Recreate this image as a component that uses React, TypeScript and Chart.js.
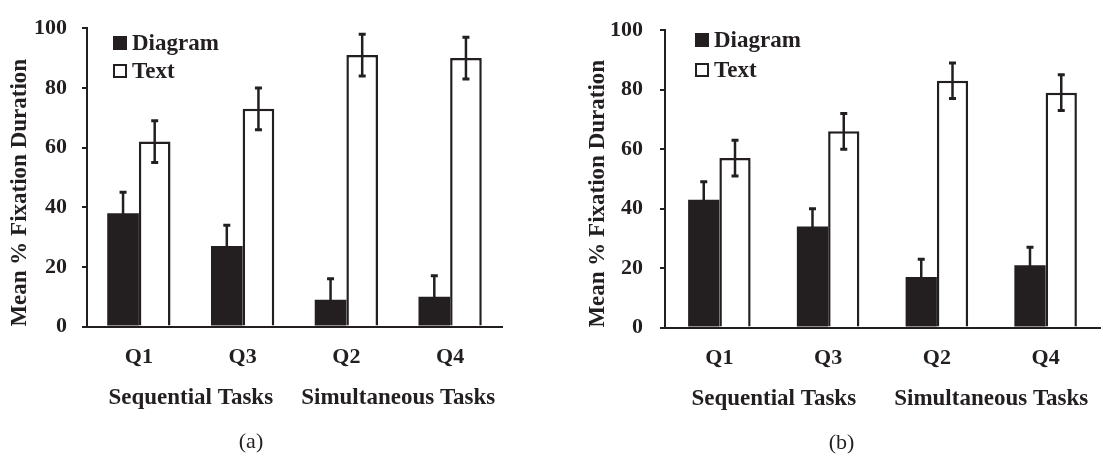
import React, { useEffect, useRef } from 'react';
import { Chart, registerables } from 'chart.js';

Chart.register(...registerables);

// ---------- data ----------
const categories = ['Q1', 'Q3', 'Q2', 'Q4'];
const taskGroups = ['Sequential Tasks', 'Simultaneous Tasks'];
const seriesNames = ['Diagram', 'Text'];
const yAxisTitle = 'Mean % Fixation Duration';
const yMin = 0;
const yMax = 100;
const yStep = 20;

const diagramA = [38, 27, 9, 10];
const diagramErrA = [7, 7, 7, 7];
const textA = [62, 73, 91, 90];
const textErrA = [7, 7, 7, 7];

const diagramB = [43, 34, 17, 21];
const diagramErrB = [6, 6, 6, 6];
const textB = [57, 66, 83, 79];
const textErrB = [6, 6, 6, 6];

// ---------- style ----------
const INK = '#231f20';
const SERIF = '"Liberation Serif", "Times New Roman", Times, serif';

function makeErrorBars(errors: number[][]) {
  return {
    id: 'errorBars',
    afterDatasetsDraw(chart: any) {
      const ctx = chart.ctx;
      const yScale = chart.scales.y;
      chart.data.datasets.forEach((ds: any, i: number) => {
        const errs = errors[i];
        if (!errs) return;
        const meta = chart.getDatasetMeta(i);
        meta.data.forEach((el: any, j: number) => {
          const v = ds.data[j];
          const e = errs[j];
          const x = el.x;
          const top = yScale.getPixelForValue(v + e);
          const bot = yScale.getPixelForValue(v - e);
          ctx.save();
          ctx.strokeStyle = INK;
          ctx.lineWidth = 2.5;
          ctx.beginPath();
          ctx.moveTo(x, top);
          ctx.lineTo(x, bot);
          ctx.stroke();
          ctx.lineWidth = 3;
          ctx.beginPath();
          ctx.moveTo(x - 3.5, top);
          ctx.lineTo(x + 3.5, top);
          ctx.moveTo(x - 3.5, bot);
          ctx.lineTo(x + 3.5, bot);
          ctx.stroke();
          ctx.restore();
        });
      });
    },
  };
}

type PanelProps = {
  left: number;
  width: number;
  diagram: number[];
  diagramErr: number[];
  text: number[];
  textErr: number[];
  caption: string;
  padTop: number;
  padRight: number;
  yWidth: number;
  catPct: number;
  tickPad: number;
  titlePad: number;
  captionPadBottom: number;
  x2Height: number;
  legendX: number;
  legendY: number;
  legendGap: number;
};

function Panel(p: PanelProps) {
  const ref = useRef<HTMLCanvasElement | null>(null);

  useEffect(() => {
    if (!ref.current) return;
    const font = (size: number, weight: any = 'bold') => ({ family: SERIF, size, weight });
    const chart = new Chart(ref.current, {
      type: 'bar',
      data: {
        labels: categories,
        datasets: [
          {
            label: seriesNames[0],
            data: p.diagram,
            backgroundColor: INK,
            borderColor: INK,
            borderWidth: 0,
            categoryPercentage: p.catPct,
            barPercentage: 1.0,
          },
          {
            label: seriesNames[1],
            data: p.text,
            backgroundColor: '#ffffff',
            borderColor: INK,
            borderWidth: 2.5,
            categoryPercentage: p.catPct,
            barPercentage: 1.0,
          },
        ],
      },
      options: {
        animation: false,
        responsive: false,
        devicePixelRatio: 1,
        events: [],
        layout: { padding: { top: p.padTop, right: p.padRight, left: 0, bottom: 0 } },
        plugins: {
          legend: { display: false },
          tooltip: { enabled: false },
          title: {
            display: true,
            text: p.caption,
            position: 'bottom',
            color: INK,
            font: font(22, 'normal'),
            padding: { top: 4, bottom: p.captionPadBottom },
          },
        },
        scales: {
          x: {
            type: 'category',
            weight: 0,
            grid: { display: false, drawTicks: false },
            border: { display: true, color: INK, width: 2 },
            ticks: { color: INK, font: font(22), padding: 18, autoSkip: false, maxRotation: 0 },
            afterFit: (s: any) => {
              s.height = 46;
            },
          },
          x2: {
            type: 'category',
            labels: taskGroups,
            position: 'bottom',
            offset: true,
            weight: 1,
            grid: { display: false, drawTicks: false },
            border: { display: false },
            ticks: { color: INK, font: font(23), padding: 12, autoSkip: false, maxRotation: 0 },
            afterFit: (s: any) => {
              s.height = p.x2Height;
            },
          },
          y: {
            min: yMin,
            max: yMax,
            ticks: { stepSize: yStep, color: INK, font: font(22), padding: p.tickPad },
            grid: { drawOnChartArea: false, drawTicks: true, tickLength: 5, color: INK, lineWidth: 2 },
            border: { display: true, color: INK, width: 2 },
            title: {
              display: true,
              text: yAxisTitle,
              align: 'start',
              color: INK,
              font: font(23),
              padding: { top: p.titlePad, bottom: 0 },
            },
            afterFit: (s: any) => {
              s.width = p.yWidth;
            },
          },
        },
      } as any,
      plugins: [makeErrorBars([p.diagramErr, p.textErr])],
    });
    return () => chart.destroy();
  }, []);

  const sq = 14;
  const legendRow = (i: number) => (
    <div key={i}>
      <div
        style={{
          position: 'absolute',
          left: p.legendX,
          top: p.legendY + i * p.legendGap,
          width: sq,
          height: sq,
          boxSizing: 'border-box',
          border: `2px solid ${INK}`,
          background: i === 0 ? INK : '#ffffff',
        }}
      />
      <div
        style={{
          position: 'absolute',
          left: p.legendX + sq + 5,
          top: p.legendY + i * p.legendGap + sq / 2 - 13,
          height: 26,
          lineHeight: '26px',
          fontFamily: SERIF,
          fontWeight: 'bold',
          fontSize: 23,
          color: INK,
          whiteSpace: 'nowrap',
        }}
      >
        {seriesNames[i]}
      </div>
    </div>
  );

  return (
    <>
      <canvas
        ref={ref}
        width={p.width}
        height={456}
        style={{ position: 'absolute', left: p.left, top: 0, width: p.width, height: 456 }}
      />
      {legendRow(0)}
      {legendRow(1)}
    </>
  );
}

export default function App() {
  return (
    <div
      style={{
        position: 'absolute',
        left: 0,
        top: 0,
        width: 1103,
        height: 456,
        background: '#ffffff',
        overflow: 'hidden',
      }}
    >
      <Panel
        left={0}
        width={512}
        diagram={diagramA}
        diagramErr={diagramErrA}
        text={textA}
        textErr={textErrA}
        caption="(a)"
        padTop={26}
        padRight={10}
        yWidth={87}
        catPct={0.61}
        tickPad={15}
        titlePad={6}
        captionPadBottom={1}
        x2Height={52}
        legendX={113}
        legendY={36}
        legendGap={28}
      />
      <Panel
        left={583}
        width={520}
        diagram={diagramB}
        diagramErr={diagramErrB}
        text={textB}
        textErr={textErrB}
        caption="(b)"
        padTop={17}
        padRight={3}
        yWidth={82}
        catPct={0.575}
        tickPad={17}
        titlePad={1}
        captionPadBottom={0}
        x2Height={52}
        legendX={695}
        legendY={33}
        legendGap={30}
      />
    </div>
  );
}
